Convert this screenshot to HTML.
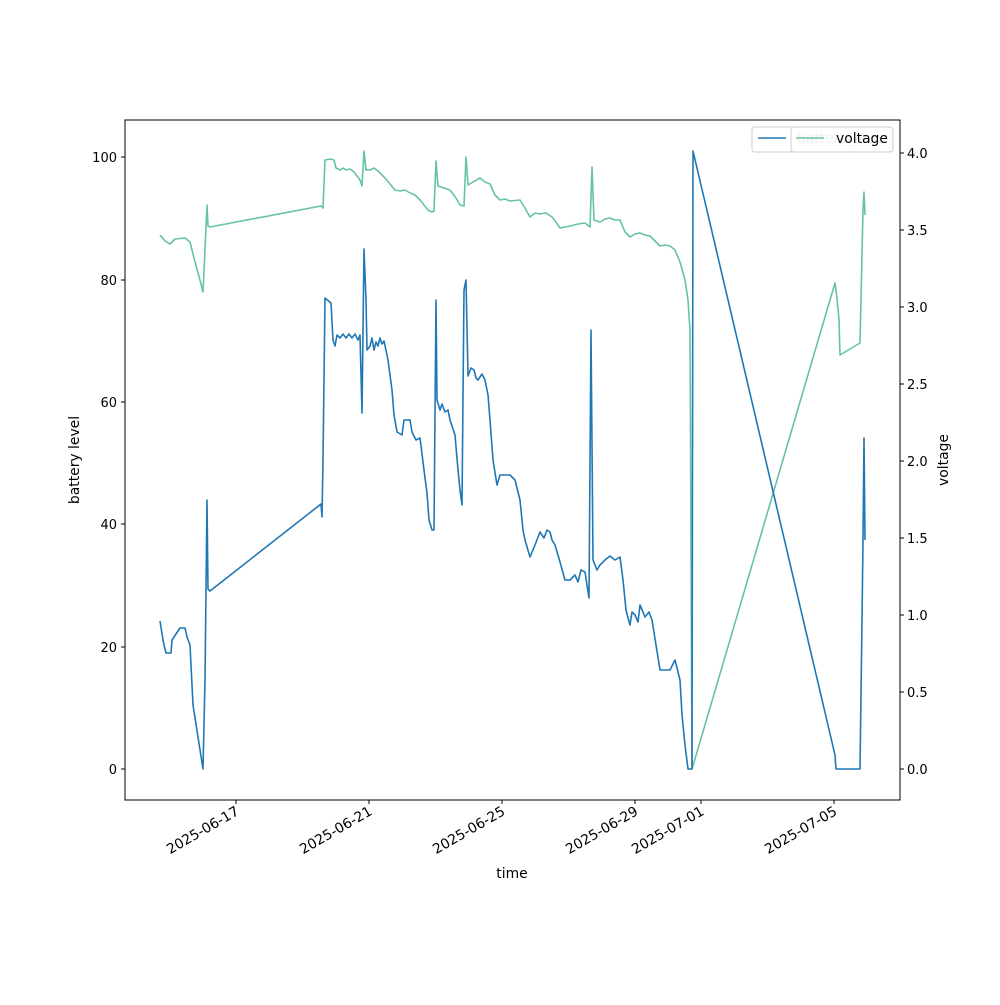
<!DOCTYPE html>
<html><head><style>body{margin:0;background:#fff}</style></head><body>
<svg width="1000" height="1000" xmlns="http://www.w3.org/2000/svg" font-family="DejaVu Sans, Liberation Sans, sans-serif" font-size="13.9">
<rect width="1000" height="1000" fill="#fff"/>
<g fill="none" stroke-width="1.6" stroke-linejoin="round">
<polyline stroke="#66c2a5" points="160,235 165,241 170,244 175,239 185,238 190,242 195,262 200,280 203,292 205,250 207,205 208,226 210,227 321,206 323,208 325,160 330,159 334,160 336,168 340,170 343,168 346,170 350,169 354,172 360,180 362,186 364,151 366,170 370,170 374,168 378,171 380,173 385,178 395,190 400,191 405,190 410,193 415,195 420,200 428,210 432,212 434,211 436,161 438,186 444,188 450,190 456,198 460,205 464,206 466,157 468,185 473,182 480,178 485,182 490,184 495,195 500,200 505,199 510,201 520,200 525,208 530,217 535,213 540,214 546,213 552,217 556,222 560,228 565,227 570,226 578,224 585,223 590,227 592,167 594,220 600,222 605,219 610,218 615,220 620,220 625,232 630,237 635,234 640,233 645,235 650,236 655,241 660,246 665,245 670,246 675,250 680,262 685,280 688,300 690,330 692,769 835,283 837,298 839,320 840,355 860,343 863,210 864,192 865,215"/>
<polyline stroke="#1f77b4" points="160,621 163,640 164,645 166,653 171,653 172,640 176,634 180,628 185,628 187,637 190,645 193,705 203,769 205,680 207,500 208,589 210,591 321,504 322,517 323,460 325,298 331,303 333,340 335,346 337,335 340,338 343,334 346,338 349,334 352,338 355,334 358,340 360,335 362,413 364,249 366,300 367,350 370,346 372,338 374,350 376,342 378,346 380,338 382,344 384,341 388,360 392,390 394,415 397,432 402,435 404,420 410,420 412,432 416,440 420,438 424,470 427,493 429,520 432,530 434,530 436,300 437,400 440,410 442,404 445,412 448,410 450,420 455,435 458,470 460,490 462,505 464,290 466,280 468,376 471,368 474,370 476,378 478,380 482,374 485,380 488,395 490,420 493,460 497,485 500,475 510,475 515,480 520,500 523,530 525,540 530,557 535,545 540,532 544,538 547,530 550,532 552,540 555,545 560,562 565,580 570,580 575,575 578,582 581,570 585,572 589,598 591,330 593,560 597,570 600,565 605,560 610,556 615,560 620,557 623,580 626,610 628,618 630,625 632,612 635,615 638,622 640,605 643,612 645,617 649,612 652,620 656,645 660,670 670,670 675,660 680,680 682,715 685,745 688,769 692,769 693,151 835,755 836,769 860,769 862,620 863,540 864,438 865,540"/>
</g>
<rect x="125" y="120" width="775" height="680" fill="none" stroke="#000" stroke-width="1"/>
<g stroke="#000">
<line x1="125" x2="121" y1="769" y2="769"/><line x1="125" x2="121" y1="647" y2="647"/><line x1="125" x2="121" y1="524" y2="524"/><line x1="125" x2="121" y1="402" y2="402"/><line x1="125" x2="121" y1="280" y2="280"/><line x1="125" x2="121" y1="157" y2="157"/>
<line x1="900" x2="904" y1="769" y2="769"/><line x1="900" x2="904" y1="692" y2="692"/><line x1="900" x2="904" y1="615" y2="615"/><line x1="900" x2="904" y1="538" y2="538"/><line x1="900" x2="904" y1="461" y2="461"/><line x1="900" x2="904" y1="384" y2="384"/><line x1="900" x2="904" y1="307" y2="307"/><line x1="900" x2="904" y1="230" y2="230"/><line x1="900" x2="904" y1="153" y2="153"/>
<line y1="800" y2="804" x1="236" x2="236"/><line y1="800" y2="804" x1="369" x2="369"/><line y1="800" y2="804" x1="502" x2="502"/><line y1="800" y2="804" x1="635" x2="635"/><line y1="800" y2="804" x1="701" x2="701"/><line y1="800" y2="804" x1="834" x2="834"/>
</g>
<g text-anchor="end" font-size="13">
<text x="117" y="774">0</text><text x="117" y="652">20</text><text x="117" y="529">40</text><text x="117" y="407">60</text><text x="117" y="285">80</text><text x="117" y="162">100</text>
</g>
<g font-size="13">
<text x="907" y="774">0.0</text><text x="907" y="697">0.5</text><text x="907" y="620">1.0</text><text x="907" y="543">1.5</text><text x="907" y="466">2.0</text><text x="907" y="389">2.5</text><text x="907" y="312">3.0</text><text x="907" y="235">3.5</text><text x="907" y="158">4.0</text>
</g>
<g text-anchor="end">
<text transform="translate(240,814) rotate(-30)">2025-06-17</text>
<text transform="translate(373,814) rotate(-30)">2025-06-21</text>
<text transform="translate(506,814) rotate(-30)">2025-06-25</text>
<text transform="translate(639,814) rotate(-30)">2025-06-29</text>
<text transform="translate(705,814) rotate(-30)">2025-07-01</text>
<text transform="translate(838,814) rotate(-30)">2025-07-05</text>
</g>
<text x="512" y="878" text-anchor="middle">time</text>
<text transform="translate(79,460) rotate(-90)" text-anchor="middle">battery level</text>
<text transform="translate(948,460) rotate(-90)" text-anchor="middle">voltage</text>
<rect x="752" y="127" width="139" height="25" rx="3" fill="#fff" fill-opacity="0.8" stroke="#ccc"/>
<line x1="758" x2="786" y1="138" y2="138" stroke="#1f77b4" stroke-width="1.6"/>
<text x="797" y="143" fill="#bbb">battery_level</text>
<rect x="791" y="127" width="102" height="25" rx="3" fill="#fff" fill-opacity="0.8" stroke="#ccc"/>
<line x1="796" x2="824" y1="138" y2="138" stroke="#66c2a5" stroke-width="1.6"/>
<text x="836" y="143">voltage</text>
</svg>
</body></html>
